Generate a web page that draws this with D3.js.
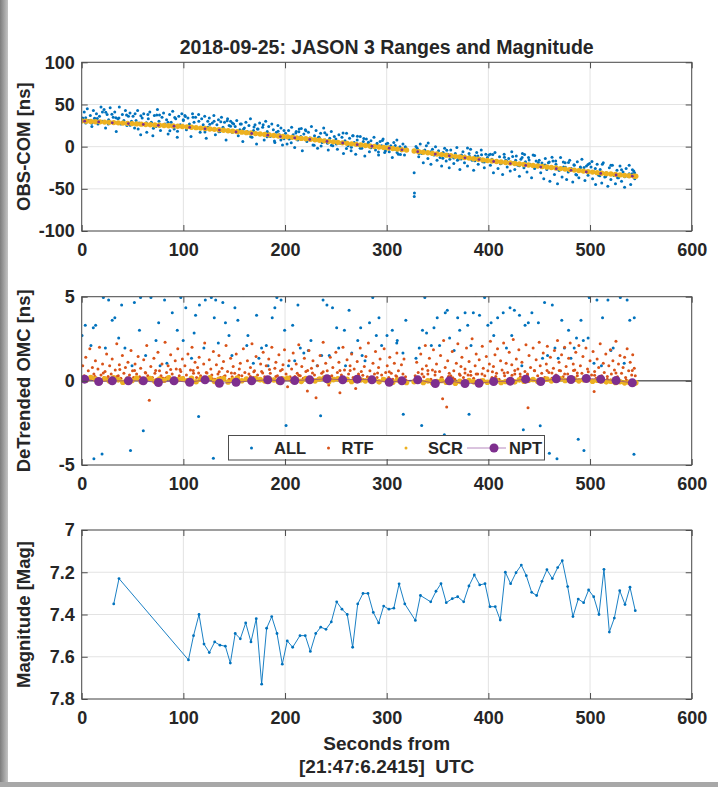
<!DOCTYPE html>
<html><head><meta charset="utf-8">
<script src="https://cdn.jsdelivr.net/npm/d3@7"></script>
<style>
body{margin:0;background:#fff}
svg{display:block}
text{font-family:"Liberation Sans",Arial,Helvetica,sans-serif;font-weight:bold;fill:#262626}
</style>
</head><body><script>
// ---------------- DATA ----------------
const xTicks = [0,100,200,300,400,500,600];
const topTicks = [-100,-50,0,50,100];
const midTicks = [-5,0,5];
const magTicks = [7,7.2,7.4,7.6,7.8];
const magTickLabels = ["7","7.2","7.4","7.6","7.8"];
const legendLabels = ["ALL","RTF","SCR","NPT"];

// Top panel: all observations (OBS-COM, ns)
const allTop = [
[1,34],[2.5,41],[4,28],[5.5,45],[7,31],[8.5,37],[10,24],[11.5,43],[13,33],[14.5,39],[16,27],[17.5,36],[19,47],[20.5,30],[22,44],[23.5,22],[25,38],[26.5,32],[28,46],[29.5,29],[31,35],[32.5,41],[34,18],[35.5,33],[37,47],[38.5,27],[40,38],[41.5,31],[43,43],[44.5,25],[46,36],[47.5,40],[49,30],
[50.5,36],[52,22],[53.5,31],[55,43],[56.5,28],[58,14],[59.5,34],[61,39],[62.5,26],[64,17],[65.5,33],[67,41],[68.5,29],[70,13],[71.5,37],[73,24],[74.5,44],[76,30],[77.5,19],[79,35],[80.5,40],[82,27],[83.5,32],[85,15],[86.5,38],[88,29],[89.5,42],[91,21],[92.5,33],[94,11],[95.5,36],[97,26],[98.5,39],
[100,31],[101.5,37],[103,20],[104.5,34],[106,27],[107.5,12],[109,39],[110.5,29],[112,35],[113.5,22],[115,38],[116.5,17],[118,33],[119.5,26],[121,36],[122.5,10],[124,30],[125.5,34],[127,21],[128.5,28],[130,37],[131.5,14],[133,26],[134.5,32],[136,18],[137.5,35],[139,23],[140.5,29],[142,8],[143.5,33],[145,25],[146.5,30],[148,17],[149.5,27],
[151,24],[152.5,31],[154,13],[155.5,20],[157,27],[158.5,6],[160,22],[161.5,29],[163,16],[164.5,25],[166,33],[167.5,11],[169,19],[170.5,26],[172,3],[173.5,21],[175,28],[176.5,15],[178,23],[179.5,8],[181,30],[182.5,18],[184,24],[185.5,12],[187,27],[188.5,20],[190,5],[191.5,17],[193,25],[194.5,14],[196,22],[197.5,2],[199,19],
[200.5,16],[202,3],[203.5,19],[205,10],[206.5,23],[208,14],[209.5,-1],[211,18],[212.5,8],[214,21],[215.5,12],[217,-5],[218.5,15],[220,20],[221.5,6],[223,17],[224.5,9],[226,24],[227.5,2],[229,13],[230.5,19],[232,-2],[233.5,11],[235,16],[236.5,5],[238,22],[239.5,8],[241,14],[242.5,-4],[244,10],[245.5,18],[247,1],[248.5,12],
[250,9],[251.5,-3],[253,14],[254.5,4],[256,11],[257.5,-8],[259,7],[260.5,16],[262,1],[263.5,10],[265,-5],[266.5,13],[268,5],[269.5,-9],[271,8],[272.5,2],[274,12],[275.5,-2],[277,6],[278.5,-11],[280,9],[281.5,3],[283,-6],[284.5,7],[286,0],[287.5,11],[289,-4],[290.5,4],[292,-10],[293.5,6],[295,1],[296.5,9],[298,-7],[299.5,3],
[301,4],[302.5,-6],[304,1],[305.5,-13],[307,5],[308.5,-3],[310,8],[311.5,-9],[313,0],[314.5,-5],[316,3],[317.5,-10],[319,-2],[327,-31],[327.3,-55],[327.1,-59],
[330,-2],[331.5,-12],[333,3],[334.5,-8],[336,-19],[337.5,-4],[339,1],[340.5,-14],[342,-7],[343.5,-21],[345,-3],[346.5,-10],[348,0],[349.5,-16],
[351,-5],[352.5,-13],[354,-23],[355.5,-7],[357,-2],[358.5,-17],[360,-9],[361.5,-25],[363,-4],[364.5,-12],[366,-20],[367.5,-8],[369,-1],[370.5,-15],[372,-27],[373.5,-10],[375,-6],[376.5,-19],[378,-13],[379.5,-23],[381,-8],[382.5,-3],[384,-16],[385.5,-28],[387,-11],[388.5,-7],[390,-21],[391.5,-14],[393,-4],[394.5,-18],[396,-25],[397.5,-9],[399,-13],
[400.5,-10],[402,-22],[403.5,-15],[405,-31],[406.5,-7],[408,-18],[409.5,-26],[411,-12],[412.5,-20],[414,-33],[415.5,-9],[417,-16],[418.5,-24],[420,-14],[421.5,-29],[423,-6],[424.5,-19],[426,-27],[427.5,-11],[429,-22],[430.5,-35],[432,-15],[433.5,-8],[435,-25],[436.5,-18],[438,-30],[439.5,-13],[441,-21],[442.5,-37],[444,-10],[445.5,-26],[447,-17],[448.5,-23],
[450,-16],[451.5,-31],[453,-22],[454.5,-38],[456,-14],[457.5,-27],[459,-19],[460.5,-41],[462,-25],[463.5,-17],[465,-33],[466.5,-21],[468,-44],[469.5,-28],[471,-13],[472.5,-36],[474,-24],[475.5,-19],[477,-39],[478.5,-30],[480,-16],[481.5,-26],[483,-42],[484.5,-22],[486,-33],[487.5,-18],[489,-37],[490.5,-25],[492,-15],[493.5,-29],[495,-40],[496.5,-23],[498,-34],[499.5,-20],
[501,-24],[502.5,-38],[504,-30],[505.5,-45],[507,-21],[508.5,-34],[510,-27],[511.5,-43],[513,-19],[514.5,-36],[516,-31],[517.5,-47],[519,-25],[520.5,-39],[522,-22],[523.5,-33],[525,-44],[526.5,-28],[528,-37],[529.5,-23],[531,-41],[532.5,-30],[534,-48],[535.5,-26],[537,-35],[538.5,-22],[540,-45],[541.5,-32],[543,-29],[544,-38],
[0.3,32.5],[3.9,34.2],[9.9,27.8],[12.6,33.7],[15.3,33.5],[20.4,41.2],[23.7,40.9],[26.1,26.8],[29.7,38.5],[33.6,34.3],[36.6,34.1],[40.8,27.8],[44.1,37.6],[47.7,25.4],[52.5,39],[55.5,20.8],[58.2,36.7],[63.6,28.3],[65.1,38.2],[70.5,21.8],[73.8,37.6],[76.5,37.5],[81.9,25.1],[84.9,28.9],[86.7,18.8],[91.5,34.5],[94.2,18.3],[99.9,31.9],
[102,35.7],[105.6,25.3],[109.5,34.8],[112.2,22.5],[115.2,30.1],[121.2,17.3],[124.2,22.9],[126,26.7],[130.2,30.2],[135,17.6],[136.8,29.4],[143.1,30.6],[146.4,24.2],[148.2,27.9],[151.2,17.6],[156,26.9],[159,20.6],[162.9,18.1],[166.2,11.7],[169.5,23.2],[172.8,20.9],[178.5,26.1],[182.4,11.6],[183.9,15.4],[189.6,6.7],[193.2,18.3],[195.9,7.9],[198.9,9.5],
[204,9],[206.1,4.7],[210.6,16.2],[213.6,17.8],[216,21.4],[220.5,18.8],[224.4,10.3],[228.6,1.8],[233.1,11.2],[235.5,0.9],[239.1,16.5],[241.8,4.1],[245.7,1.6],[250.5,3],[253.5,4.6],[257.1,16.2],[260.4,-2.2],[265.2,-0.8],[267,12.9],[271.2,12.4],[273.9,-1.9],[277.5,9.6],[282,5.1],[284.4,-1.2],[290.4,2],[291.9,-6.2],[295.8,7.3],[298.8,-5],
[305.1,-2],[308.4,1.5],[310.2,-6.8],[313.5,-9.3],[318.3,0],[328.8,0.3],[331.8,-8.2],[337.5,-5],[340.8,4.4],[343.5,-6],[348.3,-8.7],[349.2,-8.9],[355.2,-13.8],[359.1,-4.4],[362.1,-14.9],[366,-13.4],[369.6,-16],[373.2,-14.6],[376.8,-11.1],[379.5,-1.5],[381.6,-11.8],[386.7,-16.6],[389.7,-11.1],[393.3,-9.6],[396,-18.1],
[402,-9],[404.4,-9.3],[407.1,-17.6],[411.9,-20.2],[415.8,-12.7],[418.2,-17],[423.9,-11.7],[426.9,-16.1],[430.5,-22.6],[433.2,-12.9],[435.6,-9.2],[440.1,-15.8],[445.5,-10.5],[449.1,-18.9],[452.7,-19.4],[455.7,-21.8],[459.9,-18.3],[462.6,-12.6],[466.2,-17.1],[469.8,-27.6],[473.7,-18.1],[475.8,-24.3],[478.8,-18.7],[484.2,-21.4],[486.9,-33.7],[490.5,-24.2],[494.1,-24.6],[498,-21.1],
[501.9,-17.6],[505.2,-26],[509.7,-34.6],[512.1,-20.9],[515.4,-35.3],[520.5,-22],[523.5,-34.3],[527.1,-36.8],[531,-27.3],[534,-35.6],[538.5,-32.2],[541.7,-27.5],[543.8,-31]
];

// SCR points (time, top-panel value, detrended value)
const scrT = [0,4.5,9,13.5,18,22.5,27,31.5,36,40.5,45,49.5,54,58.5,63,67.5,72,76.5,81,85.5,90,94.5,99,103.5,108,112.5,117,121.5,126,130.5,135,139.5,144,148.5,153,157.5,162,166.5,171,175.5,180,184.5,189,193.5,198,202.5,207,211.5,216,220.5,225,229.5,234,238.5,243,247.5,252,256.5,261,265.5,270,274.5,279,283.5,288,292.5,297,301.5,306,310.5,315,319.5,
327,331.5,336,340.5,345,349.5,354,358.5,363,367.5,372,376.5,381,385.5,390,394.5,399,403.5,408,412.5,417,421.5,426,430.5,435,439.5,444,448.5,453,457.5,462,466.5,471,475.5,480,484.5,489,493.5,498,502.5,507,511.5,516,520.5,525,529.5,534,538.5,543,545];
const scrTop = [30.5,30.2,29.9,29.6,29.4,29.1,28.8,28.5,28.2,27.9,27.6,27.3,27.0,26.7,26.3,26.0,25.7,25.4,25.1,24.8,24.5,24.2,23.9,23.5,23.0,22.5,22.0,21.5,21.0,20.5,20.0,19.5,18.9,18.4,17.8,17.2,16.6,16.1,15.5,15.0,14.4,13.8,13.3,12.7,12.1,11.6,11.0,10.4,9.8,9.3,8.7,8.1,7.5,6.9,6.3,5.7,5.1,4.5,3.9,3.3,2.7,2.1,1.4,0.8,0.2,-0.4,-1.0,-1.6,-2.2,-2.9,-3.5,-4.1,
-5.2,-5.9,-6.6,-7.3,-8.0,-8.7,-9.4,-10.1,-10.8,-11.5,-12.2,-12.9,-13.6,-14.3,-15.0,-15.7,-16.4,-17.0,-17.6,-18.2,-18.8,-19.4,-20.0,-20.6,-21.2,-21.8,-22.4,-23.0,-23.6,-24.2,-24.8,-25.4,-26.0,-26.6,-27.2,-27.8,-28.4,-29.0,-29.6,-30.2,-30.8,-31.4,-32.0,-32.5,-33.0,-33.5,-34.0,-34.5,-34.9,-35.1];
const scrMid = [0.15,0.05,0.2,0.1,-0.05,0.12,0.0,0.18,0.06,-0.08,0.1,0.02,0.16,-0.04,0.08,0.14,-0.02,0.1,0.04,0.18,-0.06,0.08,0.12,0.0,0.15,-0.05,0.1,0.05,0.18,-0.03,0.09,0.13,-0.07,0.06,0.16,0.01,0.11,-0.04,0.14,0.07,0.0,0.12,0.05,-0.06,0.1,0.15,0.02,0.08,-0.03,0.13,0.06,0.0,0.11,0.16,-0.05,0.07,0.12,0.02,0.09,-0.04,0.14,0.05,0.0,0.1,0.06,-0.06,0.08,0.02,-0.08,0.05,-0.02,-0.1,
-0.05,0.03,-0.1,0.0,-0.12,-0.04,0.02,-0.08,0.0,-0.14,-0.03,-0.1,0.02,-0.06,-0.12,0.0,-0.08,-0.02,0.04,-0.1,-0.04,0.02,-0.06,0.06,-0.02,0.04,0.08,-0.03,0.06,0.1,0.0,0.05,0.12,0.02,0.07,0.1,0.0,0.06,0.08,-0.02,0.04,0.0,-0.06,-0.02,-0.1,-0.05,-0.12,-0.08,-0.15,-0.12];

// NPT normal points (time, top-panel value, detrended value)
const nptT = [2.9,16.7,30.1,45.9,60.6,75.4,90.8,106.2,121.3,135.4,151.8,167.2,183,195.4,209.5,224.3,241.3,256.7,271,285.5,302.5,315,330.5,347.8,361.6,377,390.8,405.2,421.6,436.7,451.5,466.8,481.3,496.3,510.5,525.6,541.6];
const nptTop = [30.2,29.3,28.3,27.4,26.4,25.3,24.3,22.8,21.1,19.6,17.5,15.6,13.6,12.0,10.3,8.5,6.2,4.3,2.4,0.5,-1.8,-3.8,-6.0,-8.8,-10.9,-13.2,-15.3,-17.6,-20.1,-22.3,-24.2,-26.2,-28.1,-30.0,-31.8,-33.6,-35.0];
const nptMid = [0.1,-0.04,0,0,0,-0.1,0,-0.08,0.06,-0.14,-0.08,0,0.06,0,0.02,0.06,0.12,0.06,0.1,0.06,-0.08,0,0.06,-0.16,0,-0.16,-0.14,-0.04,-0.02,0.1,-0.04,0.12,0.08,0.14,0.1,0.02,-0.12];

// Middle panel: all observations detrended (ns)
const allMid = [
[0.3,2.7],[3.5,3.3],[9.1,2.1],[11.4,3.15],[13.7,3.3],[18.4,5.25],[21.3,4.95],[23.3,1.95],[26.5,4.8],[30,3.6],[32.6,3.75],[36.4,2.55],[39.3,4.5],[42.5,1.95],[46.9,5.25],[49.5,0.9],[51.8,4.65],[56.8,3.0],[57.9,4.95],[62.9,1.5],[65.8,5.25],[68.1,4.95],[73.1,2.4],[75.7,3.45],[77.1,0.9],[81.5,4.8],[83.8,1.05],[89.1,4.05],[90.8,5.1],[94,3.0],[97.5,4.95],[99.8,2.4],
[102.4,4.35],[108,1.35],[110.6,2.85],[112,3.9],[115.8,4.5],[120.2,1.95],[121.6,4.8],[127.5,4.95],[130.4,3.75],[131.8,4.8],[134.4,2.25],[138.8,4.65],[141.4,3.45],[144.9,2.7],[147.8,1.5],[150.7,4.35],[153.6,3.6],[158.9,5.1],[162.4,2.1],[163.5,2.7],[168.8,1.05],[172,3.9],[174.3,1.35],[176.9,1.95],[181.6,2.1],[183.3,0.9],[187.4,3.75],[190,4.35],[192,4.95],[196.1,4.8],[199.6,3.0],
[203.4,0.9],[207.5,3.3],[209.5,1.2],[212.7,4.5],[215,1.95],[218.5,1.65],[222.9,1.8],[225.5,2.4],[228.7,5.25],[231.6,0.9],[236,1.5],[237.4,4.8],[241.2,4.5],[243.5,1.5],[246.7,4.35],[250.8,3.15],[252.8,1.95],[258.4,3.0],[259.5,0.9],[263,4.2],[265.6,1.65],[271.5,2.4],[274.4,3.15],[275.8,1.5],[278.7,1.2],[283.1,3.45],[286.3,4.95],[289.8,2.7],[292.4,3.75],[295,2.1],[300.3,2.7],[303.2,5.1],[305.5,3.0],[309.9,2.25],[310.4,2.4],[316,1.65],[318.8,3.6],
[328.8,1.35],[332,1.95],[335.2,3.0],[337.5,4.95],[339.2,2.85],[343.9,2.1],[346.5,3.15],[349.7,3.75],[352,2.1],[357.6,4.05],[359.6,4.2],[361.9,2.55],[366.3,1.8],[369.8,3.75],[371.8,3.0],[377.1,4.05],[379.7,3.3],[382.9,2.1],[385.2,4.05],[387.2,5.1],[391.3,3.9],[396.3,4.95],[399.5,3.3],
[402.7,3.45],[405.3,2.7],[409.1,3.75],[411.4,5.25],[414.6,4.05],[417.8,1.95],[421.3,4.35],[423,2.7],[425.6,4.2],[430.6,3.9],[432.9,0.9],[436.1,3.3],[439.3,3.45],[442.8,4.05],[446.3,5.1],[449.2,3.45],[453.3,1.35],[455.3,4.65],[458.2,1.5],[462.9,4.5],[465.5,1.95],[468.7,1.35],[472.2,3.6],[474.8,1.95],[478.9,3.0],
[481.2,1.35],[484.4,1.95],[486.7,2.55],[491.1,3.6],[493.4,2.4],[498.1,2.55],[499.2,4.95],[503.9,1.05],[506.8,4.8],[511.2,0.9],[512.3,3.75],[517.6,4.8],[520.5,1.8],[522.8,1.95],[524.8,5.25],[529.8,4.95],[533.6,1.05],[536.5,4.8],[539.1,3.6],[543.5,3.75],
[12,-4.63],[20,-4.34],[48,-4.14],[60.6,-2.97],[115,-2.12],[129.5,-4.6],[201,-2.65],[235,-2.08],[316.3,-1.98],[334.4,-2.65],[356.7,-3.2],[381,-1.98],[434.4,-2.9],[451,-2.67],[460,-4.3],[467.5,-4.63],[488.4,-3.47],[494,-4.14],[543.2,-4.36]
];

// Middle panel: RTF points detrended (ns)
const rtfMid = [
[1,0.9],[2.5,0.3],[4,1.4],[5,0.1],[6.5,0.6],[8,1.9],[9,0.25],[10.5,0.8],[12,0.4],[13.5,1.2],[15,0.15],[16,0.7],[17.5,2.0],[19,0.35],[20.5,1.0],[22,0.2],[23,0.55],[24.5,1.6],[26,0.1],[27.5,0.9],[29,0.4],[30,1.3],[31.5,0.2],[33,0.65],[34.5,2.2],[36,0.3],[37,0.95],[38.5,0.15],[40,1.5],[41.5,0.45],[43,0.8],[44,0.1],[45.5,1.1],[47,0.35],[48.5,1.8],[50,0.6],[51,0.2],[52.5,1.0],[54,0.4],[55.5,1.45],[57,0.25],[58,0.75],[59.5,0.1],[61,1.25],[62.5,0.5],[64,2.1],[65,0.3],[66.5,-1.15],[68,0.85],[69.5,0.2],[71,1.35],[72,0.45],[73.5,0.1],[75,1.7],[76.5,0.6],[78,0.3],[79,1.0],[80.5,0.15],[82,2.3],[83.5,0.5],[85,0.9],[86,0.25],[87.5,1.55],[89,0.4],[90.5,0.1],[92,1.2],[93,0.7],[94.5,1.9],[96,0.3],[97.5,0.55],[99,1.3],[100,0.2],
[101.5,0.9],[103,0.35],[104.5,1.6],[106,0.1],[107,0.65],[108.5,2.0],[110,0.45],[111.5,1.1],[113,0.2],[114,0.8],[115.5,1.4],[117,0.3],[118.5,0.05],[120,1.0],[121,2.25],[122.5,0.5],[124,0.15],[125.5,1.25],[127,0.7],[128,0.35],[129.5,1.75],[131,0.1],[132.5,0.95],[134,0.4],[135,1.5],[136.5,0.2],[138,0.75],[139.5,1.15],[141,0.3],[142,2.1],[143.5,0.55],[145,0.1],[146.5,1.35],[148,0.25],[149,0.85],[150.5,0.45],[152,1.6],[153.5,0.15],[155,0.7],[156,1.05],[157.5,0.3],[159,1.9],[160.5,0.5],[162,0.1],[163,1.2],[164.5,0.4],[166,0.8],[167.5,2.2],[169,0.2],[170,0.6],[171.5,1.45],[173,0.35],[174.5,0.05],[176,1.0],[177,0.55],[178.5,1.7],[180,0.25],[181.5,0.9],[183,0.15],[184,1.3],[185.5,0.45],[187,2.0],[188.5,0.1],[190,0.75],[191,1.1],[192.5,0.3],[194,1.55],[195.5,0.6],[197,0.2],[198,0.95],[199.5,1.85],
[201,0.4],[202.5,-0.35],[204,1.2],[205,0.25],[206.5,0.7],[208,1.65],[209.5,0.1],[211,1.0],[212,0.45],[213.5,2.15],[215,0.3],[216.5,0.85],[218,0.15],[219,1.35],[220.5,0.55],[222,-0.6],[223.5,1.8],[225,0.2],[226,0.75],[227.5,1.2],[229,0.35],[230.5,-1.0],[232,0.9],[233,0.1],[234.5,1.5],[236,0.45],[237.5,2.3],[239,0.25],[240,1.05],[241.5,0.6],[243,-0.25],[244.5,1.4],[246,0.3],[247,0.8],[248.5,0.15],[250,1.7],[251.5,0.5],[253,1.1],[254,-0.7],[255.5,0.35],[257,2.0],[258.5,0.65],[260,0.1],[261,1.25],[262.5,0.4],[264,0.9],[265.5,1.6],[267,0.2],[268,0.7],[269.5,-0.45],[271,1.15],[272.5,0.3],[274,1.95],[275,0.55],[276.5,0.1],[278,0.85],[279.5,1.45],[281,0.25],[282,2.25],[283.5,0.6],[285,0.15],[286.5,1.05],[288,0.4],[289,1.75],[290.5,0.2],[292,0.8],[293.5,1.3],[295,0.35],[296,0.05],[297.5,1.9],[299,0.5],[300.5,0.9],[302,0.2],[303,1.4],[304.5,0.45],[306,0.1],[307.5,1.05],[309,0.3],[310,1.65],[311.5,0.6],[313,0.15],[314.5,0.95],[316,0.4],[317,1.3],[318.5,0.25],
[328,0.3],[329.5,1.1],[331,0.5],[332,0.15],[333.5,1.6],[335,0.7],[336.5,0.25],[338,2.1],[339,0.9],[340.5,0.4],[342,1.35],[343.5,0.1],[345,0.65],[346,1.85],[347.5,0.35],[349,1.0],[355,-1.07],[352,0.55],[353,1.5],[354.5,0.2],[356,2.4],[357.5,0.8],[359,-1.56],[360,1.2],[361.5,0.45],[363,0.3],[364.5,1.75],[366,0.6],[367,0.1],[368.5,1.05],[370,2.2],[371.5,0.4],[373,0.85],[374,1.4],[375.5,0.2],[377,0.7],[378.5,1.95],[380,0.35],[381,1.15],[382.5,0.55],[384,2.5],[385.5,0.15],[387,0.9],[388,1.6],[389.5,0.4],[391,1.25],[392.5,0.05],[394,2.05],[395,0.75],[396.5,0.3],[398,1.45],[399.5,0.6],[401,1.0],[402,2.35],[403.5,0.2],[405,0.85],[406.5,1.55],[408,0.45],[409,1.9],[410.5,0.1],[412,1.2],[413.5,0.65],[415,2.25],[416,0.3],[417.5,1.05],[419,0.5],[420.5,1.7],[422,0.15],[423,0.95],[424.5,2.45],[426,0.4],[427.5,1.3],[429,0.7],[430,1.85],[431.5,0.25],[433,1.1],[439,-1.6],[436,0.55],[437,2.15],[438.5,0.35],[440,1.5],[441.5,0.8],[443,0.1],[444,1.95],[445.5,0.6],[447,1.25],[448.5,0.3],[450,2.3],[451,0.9],[452.5,0.45],[454,1.65],[455.5,0.2],[457,1.0],[458,2.05],[459.5,0.5],[461,1.4],[462.5,0.15],[464,0.75],[465,1.8],[466.5,0.35],[468,2.4],[469.5,1.1],[471,0.6],[472,1.55],[473.5,0.25],[475,2.0],[476.5,0.85],[478,0.4],[479,1.35],[480.5,2.25],[482,0.1],[483.5,1.0],[485,0.65],[486,1.7],[487.5,0.3],[489,2.1],[490.5,0.9],[492,0.45],[493,1.45],[494.5,0.2],[496,1.95],[497.5,0.7],[504,-0.63],[500,1.2],[501.5,0.35],[503,1.75],[504.5,0.55],[506,0.15],[507,1.3],[508.5,0.8],[510,2.2],[511.5,0.3],[513,1.05],[514,0.5],[515.5,1.6],[517,0.1],[518.5,0.9],[520,1.85],[521,0.4],[522.5,1.2],[524,0.65],[525.5,2.35],[527,0.25],[528,1.0],[529.5,1.5],[531,0.45],[532.5,0.8],[534,1.4],[535,0.2],[536.5,1.9],[538,0.6],[539.5,1.1],[541,0.35],[542,1.55],[543.5,0.75],[544.5,0.3],
[2,0.12],[8.25,0.19],[13,0.26],[21.25,0.47],[26,0.26],[34.75,0.26],[37.5,0.68],[46.25,0.05],[52,0.61],[60.25,0.05],[63,0.47],[72.75,0.61],[78.5,0.19],[83.25,0.19],[87.5,0.68],[96.75,0.68],[104,0.05],[109.75,0.61],[115,0.47],[123.25,0.47],[128.5,0.12],[135.25,0.54],[140,0.26],[147.25,0.47],[154.5,0.33],[160.25,0.05],[166,0.26],[169.25,0.54],[178,0.47],[184.75,0.68],[191,0.26],[197.25,0.68],
[204.5,0.05],[209.75,0.26],[213.5,0.33],[222.25,0.61],[227,0.47],[232.25,0.12],[237.5,0.54],[243.75,0.26],[254,0.61],[258.75,0.05],[264,0.61],[272.25,0.4],[276.5,0.33],[282.75,0.19],[291,0.47],[295.75,0.12],[302.5,0.54],[309.75,0.26],[313.5,0.05],[318.9,0.05],
[329,0.05],[334.75,0.4],[340.5,0.61],[347.75,0.54],[353.5,0.19],[360.75,0.26],[365,0.19],[372.25,0.33],[377,0.47],[382.75,0.33],[388,0.4],[393.75,0.4],[404,0.54],[407.25,0.26],[415.5,0.47],[423.25,0.33],[426,0.61],[431.25,0.4],[438.5,0.4],[445.25,0.61],[450.5,0.05],[457.75,0.61],[462.5,0.47],[469.75,0.61],[475,0.4],[483.75,0.61],[487.5,0.47],[498.25,0.54],[504.5,0.33],[508.75,0.12],[517,0.26],[520.25,0.05],[525.5,0.47],[535.75,0.05],[541.5,0.61]
];

// Bottom panel: magnitude
const magT = [31.5,36.7,105,110,115.4,120.3,125.5,130.8,136,141.3,146.2,151,156,161.3,166.5,171.7,177,181.9,186.9,192.1,197.3,202.2,207.5,214.7,219.9,224.9,230.2,235.1,240.3,245.5,250.8,256,261.2,266.5,271.5,276.7,281.6,286.8,292.1,297,302.2,307,312.2,317.8,328.2,333.2,343.3,348.5,353.4,358.6,364.5,369.8,375.7,380.9,386.2,391.5,396.7,401.6,406.8,411.7,416.7,421.9,427.2,432.4,437.3,442.6,447.5,452.7,457.6,462.9,468.2,472.7,478,483.2,488.4,493.7,498.6,503.6,508.8,513.7,519,523.9,529.2,534.4,539.3,544.5];
const magV = [7.35,7.23,7.615,7.50,7.40,7.54,7.58,7.53,7.545,7.55,7.63,7.49,7.515,7.44,7.53,7.42,7.73,7.465,7.41,7.49,7.635,7.525,7.555,7.50,7.50,7.575,7.49,7.46,7.47,7.435,7.34,7.375,7.40,7.555,7.35,7.30,7.30,7.39,7.44,7.36,7.375,7.37,7.255,7.35,7.428,7.31,7.34,7.29,7.254,7.344,7.325,7.316,7.34,7.265,7.213,7.26,7.254,7.363,7.363,7.426,7.20,7.254,7.202,7.166,7.216,7.295,7.31,7.243,7.188,7.23,7.178,7.145,7.268,7.41,7.327,7.344,7.284,7.316,7.40,7.186,7.483,7.417,7.287,7.353,7.271,7.382];

// ---------------- DRAWING ----------------
const W = 718, H = 787;
const C_ALL = "#0072BD", C_RTF = "#D95319", C_SCR = "#EDB120", C_NPT = "#7E2F8E";
const svg = d3.select("body").append("svg").attr("width", W).attr("height", H);
svg.append("rect").attr("width", W).attr("height", H).attr("fill", "#fff");

const defs = svg.append("defs");
const gr = defs.append("linearGradient").attr("id","lg").attr("x1",0).attr("x2",1);
gr.append("stop").attr("offset","0%").attr("stop-color","#7d7d7d");
gr.append("stop").attr("offset","100%").attr("stop-color","#c4c4c4");
svg.append("rect").attr("x",0).attr("y",0).attr("width",8).attr("height",H).attr("fill","url(#lg)");
svg.append("rect").attr("x",0).attr("y",782).attr("width",W).attr("height",5).attr("fill","#a8a8a8");

const x = d3.scaleLinear().domain([0, 600]).range([81.7, 691.7]);
const L = 81.7, R = 691.7;

const panels = [
  {y: d3.scaleLinear().domain([-100, 100]).range([231, 62.3]), top: 62.3, bot: 231, ticks: topTicks, fmt: d => String(d), label: "OBS-COM [ns]"},
  {y: d3.scaleLinear().domain([-5, 5]).range([465, 296.7]), top: 296.7, bot: 465, ticks: midTicks, fmt: d => String(d), label: "DeTrended OMC [ns]"},
  {y: d3.scaleLinear().domain([7, 7.8]).range([530, 699]), top: 530, bot: 699, ticks: magTicks, fmt: (d,i) => magTickLabels[i], label: "Magnitude [Mag]"}
];

panels.forEach((p, i) => {
  defs.append("clipPath").attr("id", "clip" + i).append("rect")
    .attr("x", L).attr("y", p.top).attr("width", R - L).attr("height", p.bot - p.top);
  const g = svg.append("g");
  g.selectAll(".gx").data(xTicks).join("line")
    .attr("x1", d => x(d)).attr("x2", d => x(d)).attr("y1", p.top).attr("y2", p.bot)
    .attr("stroke", "#e3e3e3").attr("stroke-width", 1);
  g.selectAll(".gy").data(p.ticks).join("line")
    .attr("x1", L).attr("x2", R).attr("y1", d => p.y(d)).attr("y2", d => p.y(d))
    .attr("stroke", "#e3e3e3").attr("stroke-width", 1);
  p.g = svg.append("g").attr("clip-path", `url(#clip${i})`);
});

function axesFrame(p) {
  const g = svg.append("g");
  g.append("g").attr("transform", `translate(0,${p.bot})`)
    .call(d3.axisBottom(x).tickValues(xTicks).tickSize(-6).tickPadding(12).tickFormat(d3.format("d")));
  g.append("g").attr("transform", `translate(0,${p.top})`)
    .call(d3.axisTop(x).tickValues(xTicks).tickSize(-6).tickFormat(""));
  g.append("g").attr("transform", `translate(${L},0)`)
    .call(d3.axisLeft(p.y).tickValues(p.ticks).tickSize(-6).tickPadding(7).tickFormat(p.fmt));
  g.append("g").attr("transform", `translate(${R},0)`)
    .call(d3.axisRight(p.y).tickValues(p.ticks).tickSize(-6).tickFormat(""));
  g.selectAll(".domain").remove();
  g.selectAll(".tick line").attr("stroke", "#4d4d4d");
  g.selectAll(".tick text").attr("font-size", 18).attr("font-family", "Liberation Sans, Arial, sans-serif")
    .attr("font-weight", "bold").attr("fill", "#262626");
  g.append("rect").attr("x", L).attr("y", p.top).attr("width", R - L).attr("height", p.bot - p.top)
    .attr("fill", "none").attr("stroke", "#4d4d4d").attr("stroke-width", 1);
  svg.append("text").attr("transform", `translate(25,${(p.top + p.bot) / 2}) rotate(-90)`)
    .attr("text-anchor", "middle").attr("dominant-baseline", "middle").attr("font-size", 18.5).text(p.label);
}

// ---- Panel 1 ----
{
  const p = panels[0], g = p.g;
  g.selectAll(".a").data(allTop).join("circle")
    .attr("cx", d => x(d[0])).attr("cy", d => p.y(d[1])).attr("r", 1.5).attr("fill", C_ALL);
  g.selectAll(".s").data(scrT).join("circle")
    .attr("cx", d => x(d)).attr("cy", (d, i) => p.y(scrTop[i])).attr("r", 2.7).attr("fill", C_SCR);
  g.selectAll(".n").data(nptT).join("circle")
    .attr("cx", d => x(d)).attr("cy", (d, i) => p.y(nptTop[i])).attr("r", 1.4).attr("fill", C_NPT);
}
// ---- Panel 2 ----
{
  const p = panels[1], g = p.g;
  g.append("line").attr("x1", x(0)).attr("x2", x(600)).attr("y1", p.y(0)).attr("y2", p.y(0))
    .attr("stroke", "#222").attr("stroke-width", 1);
  g.selectAll(".a").data(allMid).join("circle")
    .attr("cx", d => x(d[0])).attr("cy", d => p.y(d[1])).attr("r", 1.5).attr("fill", C_ALL);
  g.selectAll(".r").data(rtfMid).join("circle")
    .attr("cx", d => x(d[0])).attr("cy", d => p.y(d[1])).attr("r", 1.5).attr("fill", C_RTF);
  g.selectAll(".s").data(scrT).join("circle")
    .attr("cx", d => x(d)).attr("cy", (d, i) => p.y(scrMid[i])).attr("r", 2.8).attr("fill", C_SCR);
  const line = d3.line().x(d => x(d[0])).y(d => p.y(d[1]));
  g.append("path").attr("d", line(nptT.map((t, i) => [t, nptMid[i]])))
    .attr("fill", "none").attr("stroke", C_NPT).attr("stroke-width", 0.6);
  g.selectAll(".n").data(nptT).join("circle")
    .attr("cx", d => x(d)).attr("cy", (d, i) => p.y(nptMid[i])).attr("r", 4.5).attr("fill", C_NPT);

  const lg = svg.append("g");
  lg.append("rect").attr("x", 228.5).attr("y", 435.5).attr("width", 316).attr("height", 24.5)
    .attr("fill", "#fff").attr("stroke", "#4d4d4d").attr("stroke-width", 1);
  const cy = 448;
  lg.append("circle").attr("cx", 251.5).attr("cy", cy).attr("r", 1.5).attr("fill", C_ALL);
  lg.append("circle").attr("cx", 328.5).attr("cy", cy).attr("r", 1.5).attr("fill", C_RTF);
  lg.append("circle").attr("cx", 406).attr("cy", cy).attr("r", 1.5).attr("fill", C_SCR);
  lg.append("line").attr("x1", 467).attr("x2", 506).attr("y1", cy).attr("y2", cy).attr("stroke", C_NPT).attr("stroke-width", 0.8).attr("opacity", 0.7);
  lg.append("circle").attr("cx", 494).attr("cy", cy).attr("r", 4.5).attr("fill", C_NPT);
  const lx = [274, 341.5, 428, 509];
  legendLabels.forEach((t, i) => lg.append("text").attr("x", lx[i]).attr("y", cy)
    .attr("dominant-baseline", "central").attr("font-size", 16.5).attr("fill", "#111").text(t));
}
// ---- Panel 3 ----
{
  const p = panels[2], g = p.g;
  const data = magT.map((t, i) => [t, magV[i]]);
  g.append("path").attr("d", d3.line().x(d => x(d[0])).y(d => p.y(d[1]))(data))
    .attr("fill", "none").attr("stroke", C_ALL).attr("stroke-width", 0.9);
  g.selectAll(".m").data(data).join("circle")
    .attr("cx", d => x(d[0])).attr("cy", d => p.y(d[1])).attr("r", 1.4).attr("fill", C_ALL);
}
panels.forEach(axesFrame);

svg.append("text").attr("x", (L + R) / 2).attr("y", 54).attr("text-anchor", "middle")
  .attr("font-size", 19.5).attr("fill", "#000").text("2018-09-25: JASON 3 Ranges and Magnitude");
svg.append("text").attr("x", (L + R) / 2).attr("y", 750).attr("text-anchor", "middle")
  .attr("font-size", 19).text("Seconds from");
svg.append("text").attr("x", (L + R) / 2).attr("y", 773).attr("text-anchor", "middle")
  .attr("font-size", 19).style("white-space", "pre").text("[21:47:6.2415]  UTC");
</script></body></html>
